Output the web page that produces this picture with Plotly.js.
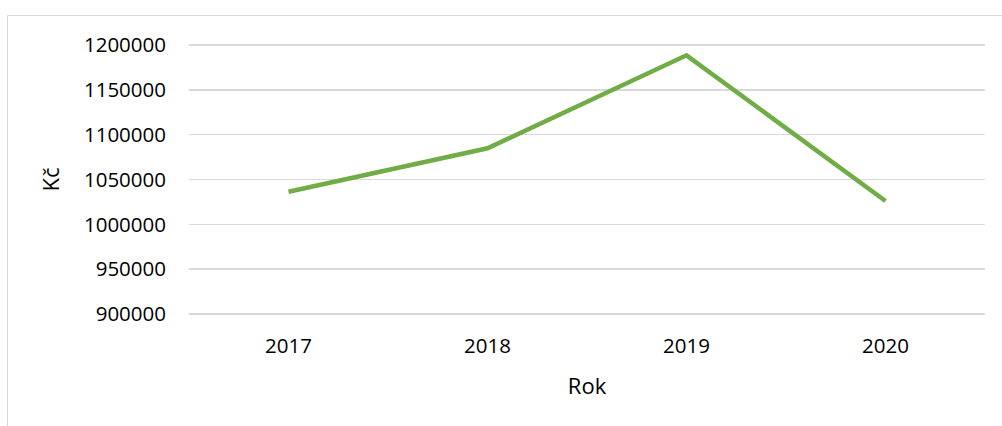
<!DOCTYPE html>
<html>
<head>
<meta charset="utf-8">
<script src="https://cdn.plot.ly/plotly-3.0.1.min.js"></script>
<style>
  html, body { margin: 0; padding: 0; background: #fff; overflow: hidden; }
  #chart { width: 1002px; height: 426px; position: absolute; left: 0; top: 0; }
  #frame { position: absolute; left: 7px; top: 15px; width: 1010px; height: 430px;
           border-left: 1.5px solid #d9d9d9; border-top: 1.5px solid #d9d9d9;
           pointer-events: none; }
</style>
</head>
<body>
<div id="chart"></div>
<div id="frame"></div>
<script>
const years = ['2017', '2018', '2019', '2020'];
const amounts = [1036400, 1084800, 1188500, 1026000];
const yTicks = [900000, 950000, 1000000, 1050000, 1100000, 1150000, 1200000];
const xTitle = 'Rok';
const yTitle = 'Kč';

const font = { family: '"Open Sans", Lato, sans-serif', color: '#000000' };

Plotly.newPlot('chart', [{
  type: 'scatter',
  mode: 'lines',
  x: years,
  y: amounts,
  line: { color: '#70AD47', width: 4.5 },
  hoverinfo: 'skip'
}], {
  width: 1002,
  height: 426,
  margin: { l: 189, r: 17, t: 42, b: 109 },
  paper_bgcolor: 'rgba(0,0,0,0)',
  plot_bgcolor: '#ffffff',
  showlegend: false,
  font: font,
  xaxis: {
    type: 'category',
    range: [-0.5, 3.5],
    showgrid: false,
    zeroline: false,
    showline: false,
    ticks: '',
    tickfont: { family: font.family, size: 20.5, color: '#000' },
    ticklabelstandoff: 14,
    title: { text: xTitle, font: { family: font.family, size: 22, color: '#000' }, standoff: 21 }
  },
  yaxis: {
    range: [896654, 1203346],
    tickvals: yTicks,
    ticktext: yTicks.map(String),
    showgrid: true,
    gridcolor: '#d9d9d9',
    gridwidth: 1.5,
    zeroline: false,
    showline: false,
    ticks: '',
    tickfont: { family: font.family, size: 20.5, color: '#000' },
    ticklabelstandoff: 22,
    title: { text: yTitle, font: { family: font.family, size: 22, color: '#000' }, standoff: 18 }
  }
}, { staticPlot: true, displayModeBar: false });
</script>
</body>
</html>
